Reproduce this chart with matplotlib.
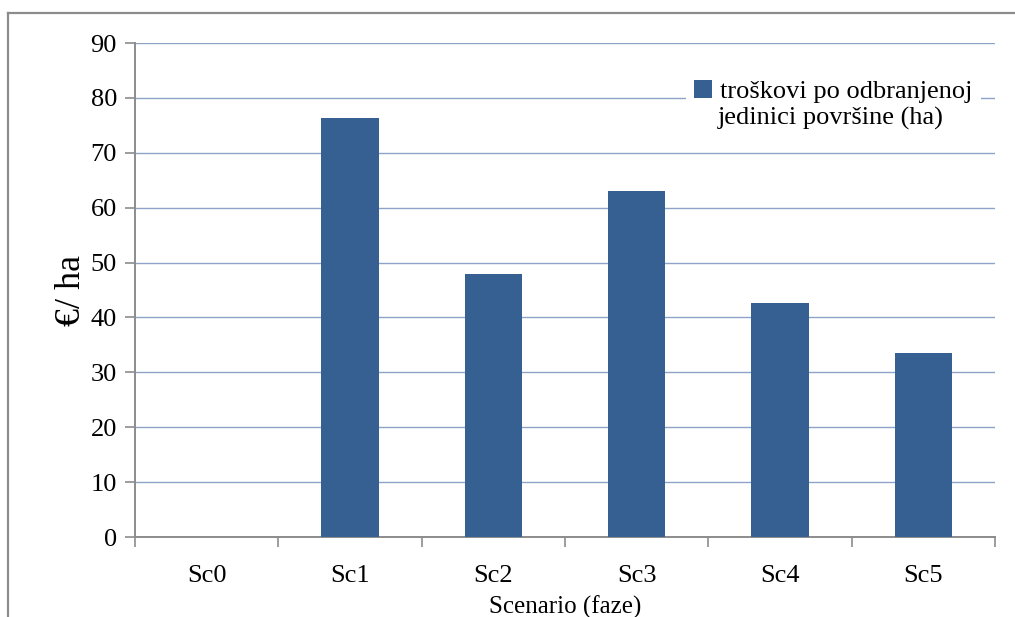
import matplotlib.pyplot as plt
from matplotlib.lines import Line2D
import numpy as np

categories = ['Sc0', 'Sc1', 'Sc2', 'Sc3', 'Sc4', 'Sc5']
costs = [0, 76.4, 47.9, 63.0, 42.7, 33.5]
series_label = ['troškovi po odbranjenoj', 'jedinici površine (ha)']
yticks = [0, 10, 20, 30, 40, 50, 60, 70, 80, 90]

plt.rcParams['font.family'] = ['Liberation Serif', 'DejaVu Serif']

W, H = 1015, 617
fig = plt.figure(figsize=(W / 100, H / 100), dpi=100)
ax = fig.add_axes([135 / W, 1 - 537 / H, (995 - 135) / W, (537 - 43) / H])

# outer frame of the chart (cropped on the right and bottom)
fig.add_artist(Line2D([8 / W, 8 / W], [0, 1 - 13 / H], color='#8c8c8c', lw=1.6,
                      transform=fig.transFigure))
fig.add_artist(Line2D([8 / W, 1], [1 - 13 / H, 1 - 13 / H], color='#8c8c8c', lw=1.6,
                      transform=fig.transFigure))

x = np.arange(len(categories))
ax.bar(x, costs, width=0.4, color='#376092', label=series_label[0], zorder=3)

ax.set_xlim(-0.5, len(categories) - 0.5)
ax.set_ylim(0, 90)
ax.set_yticks(yticks)
ax.yaxis.grid(True, color='#8ea4c6', lw=1.0, zorder=0)

ax.set_xticks(np.arange(-0.5, len(categories), 1.0))
ax.set_xticklabels([])
ax.set_xticks(x, minor=True)
ax.set_xticklabels(categories, minor=True)
ax.tick_params(axis='x', which='major', length=7, width=1.2, color='#8c8c8c')
ax.tick_params(axis='x', which='minor', length=0, pad=20, labelsize=19)
ax.tick_params(axis='y', length=7, width=1.2, color='#8c8c8c', labelsize=19, pad=6)

for side in ['top', 'right']:
    ax.spines[side].set_visible(False)
for side in ['left', 'bottom']:
    ax.spines[side].set_color('#8c8c8c')
    ax.spines[side].set_linewidth(1.4)

ax.set_xlabel('Scenario (faze)', fontsize=18, labelpad=6)
ax.set_ylabel('€/ ha', fontsize=26, labelpad=2)

# legend: first line beside the square, second line wrapped below it
leg = ax.legend(loc='upper left', bbox_to_anchor=(686 / W, 1 - 72 / H),
                bbox_transform=fig.transFigure, fontsize=19, frameon=True,
                fancybox=False, edgecolor='none', facecolor='white', framealpha=1,
                handlelength=0.7, handleheight=0.7, handletextpad=0.3,
                borderpad=0.3, borderaxespad=0)
leg.set_zorder(5)
fig.text(718 / W, 1 - 118 / H, series_label[1], fontsize=19, va='center', ha='left')

fig.savefig('out.png', dpi=100)
